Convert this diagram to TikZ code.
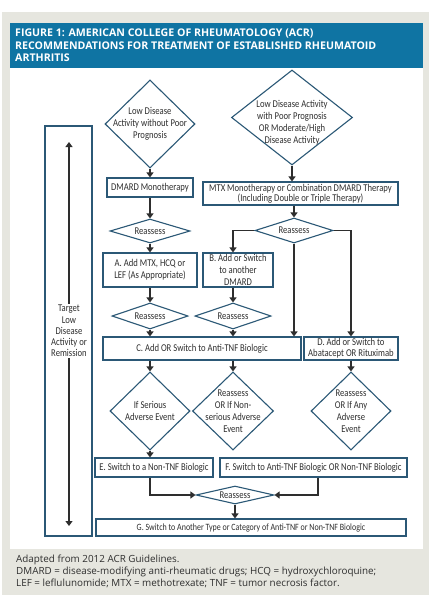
\documentclass[tikz,border=0pt]{standalone}
\usepackage{fontspec}
\setmainfont{Open Sans}
\newfontfamily\dfont[FakeStretch=0.83]{Carlito}
\usetikzlibrary{arrows.meta,shapes.geometric,calc}
\definecolor{panelgrey}{HTML}{E6E6DF}
\definecolor{headblue}{HTML}{0F74A3}
\definecolor{boxblue}{HTML}{2B5876}
\definecolor{inkgrey}{HTML}{2E2E2E}
\tikzset{
  >={Triangle[length=5pt,width=7pt]},
  dtext/.style={font={\dfont\fontsize{10.4}{12}\selectfont},text=inkgrey,
    align=center,inner sep=0pt},
  tbox/.style={dtext,draw=boxblue,line width=1.1pt,fill=white,inner sep=1pt},
  dia/.style={diamond,draw=boxblue,line width=1.1pt,fill=white,inner sep=0pt},
  headtext/.style={font={\bfseries\fontsize{10.6}{12.7}\selectfont},text=white,
    align=left,anchor=north west,inner sep=0pt},
  captext/.style={font={\fontsize{9.85}{12.3}\selectfont},text=inkgrey,
    align=left,anchor=north west,inner sep=0pt},
}
\begin{document}
\begin{tikzpicture}[x=1pt,y=-1pt,
    re/.style={->,line width=1.1pt,inkgrey},
    bartext/.style={dtext,font={\dfont\fontsize{10.4}{11.3}\selectfont},fill=white,inner sep=1pt}]
  \useasboundingbox (0,0) rectangle (431,598);
  \fill[panelgrey] (2,12) rectangle (429,595);
  \fill[white] (10,68) rectangle (423,549);
  \fill[headblue] (10,23) rectangle (423,68);
  \node[headtext] (title) at (15,28.5) {FIGURE 1: AMERICAN COLLEGE OF RHEUMATOLOGY (ACR)\\
    RECOMMENDATIONS FOR TREATMENT OF ESTABLISHED RHEUMATOID\\ARTHRITIS};
  \node[captext] (cap) at (16,554.5) {Adapted from 2012 ACR Guidelines.\\
    DMARD = disease-modifying anti-rheumatic drugs; HCQ = hydroxychloroquine;\\
    LEF = leflulunomide; MTX = methotrexate; TNF = tumor necrosis factor.};

  \node[tbox,minimum width=47pt,minimum height=410pt] (bar) at (68.5,331) {};
  \coordinate (bartop) at (69,142);
  \coordinate (barbot) at (69,526);
  \node[bartext] (tgt) at (69,331) {Target\\Low\\Disease\\Activity or\\Remission};
  \draw[re] (tgt) -- (bartop);
  \draw[re] (tgt) -- (barbot);

  \node[dia,minimum width=90pt,minimum height=88pt,
    label={[dtext]center:{Low Disease\\Activity without Poor\\Prognosis}}] (d1) at (150,124) {};
  \node[dia,minimum width=121pt,minimum height=95pt,
    label={[dtext,yshift=-5pt]center:{Low Disease Activity\\with Poor Prognosis\\OR Moderate/High\\Disease Activity}}] (d2) at (292,117.5) {};
  \node[tbox,minimum width=86pt,minimum height=19pt] (mono) at (150,187.5) {DMARD Monotherapy};
  \node[tbox,minimum width=195pt,minimum height=23pt,inner sep=0pt] (mtx) at (300.5,193.5)
    {MTX Monotherapy or Combination DMARD Therapy\\[-2pt](Including Double or Triple Therapy)};

  \node[dia,minimum width=80pt,minimum height=24pt,label={[dtext]center:Reassess}] (r1) at (150,231) {};
  \node[dia,minimum width=78pt,minimum height=25pt,label={[dtext]center:Reassess}] (r2) at (294,230.5) {};
  \node[tbox,minimum width=94pt,minimum height=34pt,inner sep=0pt] (A) at (150,270) {A. Add MTX, HCQ or\\LEF (As Appropriate)};
  \node[tbox,minimum width=70pt,minimum height=34pt,inner sep=0pt] (B) at (238,270) {B. Add or Switch\\to another\\DMARD};
  \node[dia,minimum width=76pt,minimum height=26pt,label={[dtext]center:Reassess}] (r3) at (150,316) {};
  \node[dia,minimum width=76pt,minimum height=26pt,label={[dtext]center:Reassess}] (r4) at (233,316) {};
  \node[tbox,minimum width=198pt,minimum height=23pt] (C) at (202,348.5) {C. Add OR Switch to Anti-TNF Biologic};
  \node[tbox,minimum width=94pt,minimum height=23pt,inner sep=0pt] (D) at (351,348.5) {D. Add or Switch to\\[-1pt]Abatacept OR Rituximab};

  \node[dia,minimum width=80pt,minimum height=78pt,
    label={[dtext]center:{If Serious\\Adverse Event}}] (e1) at (150,411) {};
  \node[dia,minimum width=81pt,minimum height=78pt,
    label={[dtext]center:{Reassess\\OR If Non-\\serious Adverse\\Event}}] (e2) at (233,411) {};
  \node[dia,minimum width=80pt,minimum height=78pt,
    label={[dtext]center:{Reassess\\OR If Any\\Adverse\\Event}}] (e3) at (351,411) {};
  \node[tbox,minimum width=118pt,minimum height=19pt] (E) at (154,467.5) {E. Switch to a Non-TNF Biologic};
  \node[tbox,minimum width=187pt,minimum height=19pt] (F) at (313.5,467.5) {F. Switch to Anti-TNF Biologic OR Non-TNF Biologic};
  \node[dia,minimum width=78pt,minimum height=18pt,label={[dtext]center:Reassess}] (r5) at (235,495) {};
  \node[tbox,minimum width=310pt,minimum height=17pt,font={\dfont\fontsize{9.6}{11}\selectfont}] (G) at (251,527.5)
    {G. Switch to Another Type or Category of Anti-TNF or Non-TNF Biologic};

  \draw[re] (d1) -- (mono);
  \draw[re] (d2.south) -- (d2.south |- mtx.north);
  \draw[re] (mono) -- (r1);
  \draw[re] (r2.north |- mtx.south) -- (r2.north);
  \draw[re] (r1) -- (A);
  \draw[re] (r2.west) -| (r4.north |- B.north);
  \draw[re] (r2.east) -| (D.north);
  \draw[re] (r2.south) -- (r2.south |- C.north);
  \draw[re] (A) -- (r3);
  \draw[re] (r4.north |- B.south) -- (r4.north);
  \draw[re] (r3.south) -- (r3.south |- C.north);
  \draw[re] (r4.south) -- (r4.south |- C.north);
  \draw[re] (e1.north |- C.south) -- (e1.north);
  \draw[re] (e2.north |- C.south) -- (e2.north);
  \draw[re] (D.south -| e3.north) -- (e3.north);
  \draw[re] (e1.south) -- (e1.south |- E.north);
  \draw[re] (e1.south |- E.south) |- (r5.west);
  \draw[re] ([xshift=4.5pt]F.south) |- (r5.east);
  \draw[re] (r5.south) -- (r5.south |- G.north);
\end{tikzpicture}
\end{document}
